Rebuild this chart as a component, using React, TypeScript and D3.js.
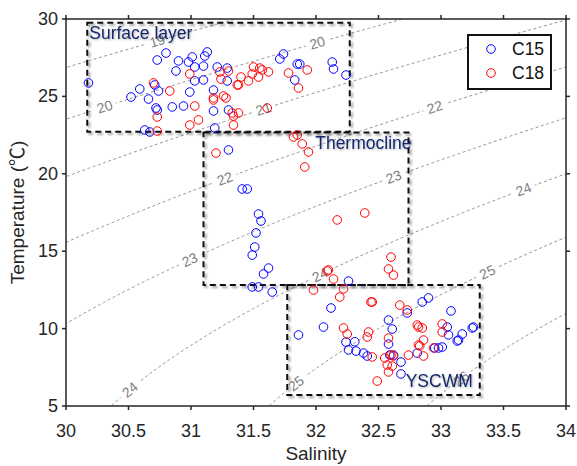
import React from 'react';
import * as d3 from 'd3';

const W = 577;
const H = 466;
const M = { left: 66, right: 11, top: 19, bottom: 60 };

const xTicks = [30, 30.5, 31, 31.5, 32, 32.5, 33, 33.5, 34];
const yTicks = [5, 10, 15, 20, 25, 30];
const seriesNames = ['C15', 'C18'];
const seriesColors = ['#0000ff', '#ff0000'];

const c15Salinity = [
  30.18, 30.52, 30.59, 30.63, 30.67, 30.66, 30.71, 30.72, 30.73, 30.73, 30.74, 30.80, 30.85, 30.88, 30.90, 30.94,
  30.98, 30.99, 31.01, 31.03, 31.03, 31.10, 31.10, 31.11, 31.13, 31.18, 31.18, 31.19, 31.21, 31.29, 31.29, 31.30,
  31.71, 31.74, 31.85, 31.87, 31.83, 32.13, 32.14, 32.24,
  31.30, 31.41, 31.45, 31.54, 31.56, 31.52, 31.51, 31.49, 31.62, 31.58, 31.49, 31.54, 31.65, 32.26,
  31.86, 32.12, 32.06, 32.24, 32.31, 32.26, 32.32, 32.38, 32.41, 32.58, 32.61, 32.58, 32.59, 32.62, 32.68, 32.68,
  32.73, 32.85, 32.90, 33.08, 32.81, 32.95, 32.98, 33.01, 33.05, 33.06, 33.13, 33.14, 33.17, 33.25, 33.26,
];
const c15Temperature = [
  25.87, 24.96, 25.48, 22.83, 22.70, 24.83, 25.74, 24.25, 24.12, 27.35, 25.35, 27.80, 24.32, 26.64, 27.29, 24.38,
  27.22, 25.28, 27.55, 26.90, 26.00, 26.96, 26.06, 27.61, 27.87, 25.41, 24.06, 22.96, 26.90, 26.83, 26.00, 24.12,
  27.42, 27.74, 27.09, 27.09, 26.06, 27.22, 26.77, 26.38,
  21.54, 19.02, 19.02, 17.40, 16.95, 16.18, 15.27, 14.75, 13.91, 13.53, 12.69, 12.69, 12.36, 13.07,
  9.59, 11.33, 10.10, 9.13, 9.15, 8.62, 8.55, 8.42, 8.23, 10.55, 9.97, 9.00, 8.29, 8.29, 7.84, 7.07,
  11.01, 11.72, 11.98, 11.14, 8.42, 8.75, 8.75, 8.81, 10.10, 9.59, 9.20, 9.26, 9.65, 10.04, 10.10,
];

const c18Salinity = [
  30.70, 30.83, 30.99, 31.03, 30.73, 31.06, 30.99, 30.73, 31.18, 31.18, 31.26, 31.28, 31.23, 31.24, 31.30, 31.37,
  31.38, 31.40, 31.46, 31.49, 31.50, 31.55, 31.57, 31.54, 31.62, 31.78, 31.93, 31.86, 31.33, 31.34, 31.38, 31.34,
  31.61,
  31.82, 31.85, 31.89, 31.94, 31.91, 31.20, 32.17, 32.39, 32.60, 32.58, 32.62, 32.09, 32.10, 32.14,
  31.98, 32.22, 32.19, 32.44, 32.45, 32.67, 32.73, 32.22, 32.25, 32.42, 32.41, 32.58, 32.81, 32.82, 32.85, 33.01,
  33.01, 32.86, 32.83, 32.82, 32.94, 32.45, 32.55, 32.60, 32.62, 32.74, 32.86, 32.57, 32.61, 32.58, 32.49,
];
const c18Temperature = [
  25.87, 25.35, 26.45, 24.38, 23.67, 23.48, 23.15, 22.76, 24.90, 24.77, 25.03, 24.90, 26.58, 26.12, 26.64, 25.74,
  25.74, 26.25, 26.00, 26.45, 26.90, 26.83, 26.71, 26.25, 26.58, 26.51, 26.71, 25.54, 23.93, 23.73, 23.93, 23.15,
  24.25,
  22.38, 22.51, 21.93, 21.41, 20.44, 21.34, 17.02, 17.47, 14.62, 13.85, 13.46, 13.72, 13.79, 13.20,
  12.49, 12.56, 12.04, 11.72, 11.72, 11.52, 11.20, 10.04, 9.65, 9.78, 9.46, 9.39, 10.23, 10.10, 10.04, 10.30,
  9.78, 9.26, 8.88, 8.94, 8.75, 8.17, 8.10, 8.29, 8.23, 8.29, 8.23, 7.65, 7.58, 7.20, 6.61,
];

const isopycnalLevels = [19, 20, 21, 22, 23, 24, 25, 26];
const isoLabelLevels = [19, 20, 20, 21, 22, 22, 23, 23, 24, 24, 24, 25, 25, 26];
const isoLabelSalinity = [30.73, 30.31, 32.01, 31.58, 31.27, 32.95, 30.99, 32.62, 32.03, 33.66, 30.51, 33.37, 31.84, 33.16];

const regionNames = ['Surface layer', 'Thermocline', 'YSCWM'];
const regionSalMin = [30.17, 31.1, 31.77];
const regionSalMax = [32.27, 32.74, 33.31];
const regionTempMin = [22.72, 12.82, 5.71];
const regionTempMax = [29.76, 22.66, 12.82];

// UNESCO EOS-80 density anomaly at surface pressure
function sigmaT(S: number, T: number): number {
  const rw = 999.842594 + 6.793952e-2 * T - 9.09529e-3 * T * T + 1.001685e-4 * T ** 3 - 1.120083e-6 * T ** 4 + 6.536332e-9 * T ** 5;
  const A = 0.824493 - 4.0899e-3 * T + 7.6438e-5 * T * T - 8.2467e-7 * T ** 3 + 5.3875e-9 * T ** 4;
  const B = -5.72466e-3 + 1.0227e-4 * T - 1.6546e-6 * T * T;
  const C = 4.8314e-4;
  return rw + A * S + B * Math.pow(S, 1.5) + C * S * S - 1000;
}
function tempAt(S: number, level: number): number | null {
  let lo = 4, hi = 40;
  if (sigmaT(S, lo) < level || sigmaT(S, hi) > level) return null;
  for (let i = 0; i < 60; i++) {
    const mid = (lo + hi) / 2;
    if (sigmaT(S, mid) > level) lo = mid; else hi = mid;
  }
  return (lo + hi) / 2;
}

export default function App() {
  const x = d3.scaleLinear().domain([30, 34]).range([M.left, W - M.right]);
  const y = d3.scaleLinear().domain([5, 30]).range([H - M.bottom, M.top]);
  const x0 = x(30), x1 = x(34), y0 = y(5), y1 = y(30);

  const sGrid = d3.range(29.8, 34.21, 0.02);
  const line = d3.line<[number, number]>().x(d => x(d[0])).y(d => y(d[1]));
  const isoPaths = isopycnalLevels.map(lv => {
    const pts: [number, number][] = [];
    sGrid.forEach(s => { const t = tempAt(s, lv); if (t !== null) pts.push([s, t]); });
    return line(pts) || '';
  });
  const labels = isoLabelLevels.map((lv, i) => {
    const s = isoLabelSalinity[i];
    const t = tempAt(s, lv) ?? 0;
    const t2 = tempAt(s + 0.01, lv) ?? 0;
    const px = x(s), py = y(t);
    const ang = Math.atan2(y(t2) - py, x(s + 0.01) - px) * 180 / Math.PI;
    return { lv, px, py, ang };
  });

  const axisColor = '#262626';
  const font = 'Arial, "Liberation Sans", Helvetica, sans-serif';
  const tl = 4;
  const navy = '#15276b';

  return (
    <svg width={W} height={H} style={{ position: 'absolute', left: 0, top: 0, background: '#fff' }} fontFamily={font}>
      <defs>
        <clipPath id="plotClip"><rect x={x0} y={y1} width={x1 - x0} height={y0 - y1} /></clipPath>
        <mask id="labelGap">
          <rect x={0} y={0} width={W} height={H} fill="#fff" />
          {labels.map((l, i) => (
            <rect key={i} x={-12} y={-7} width={24} height={14} fill="#000"
              transform={`translate(${l.px},${l.py}) rotate(${l.ang})`} />
          ))}
        </mask>
        <filter id="shadow" x="-10%" y="-10%" width="120%" height="120%">
          <feDropShadow dx={2} dy={2} stdDeviation={1.3} floodColor="#000" floodOpacity={0.4} />
        </filter>
        <filter id="tshadow" x="-10%" y="-20%" width="120%" height="140%">
          <feDropShadow dx={1} dy={1} stdDeviation={0.8} floodColor="#000" floodOpacity={0.3} />
        </filter>
      </defs>
      <rect x={0} y={0} width={W} height={H} fill="#fff" />
      <g clipPath="url(#plotClip)">
        <g mask="url(#labelGap)">
          {isoPaths.map((d, i) => (
            <path key={i} d={d} fill="none" stroke="#8c8c8c" strokeWidth={0.9} strokeDasharray="3,2.5" />
          ))}
        </g>
        {labels.map((l, i) => (
          <text key={i} x={0} y={0} fontSize={14} fill="#808080" textAnchor="middle" dominantBaseline="central"
            transform={`translate(${l.px},${l.py}) rotate(${l.ang})`}>{l.lv}</text>
        ))}
      </g>
      {regionNames.map((n, i) => {
        const bx = x(regionSalMin[i]), bx2 = x(regionSalMax[i]);
        const by = y(regionTempMax[i]), by2 = y(regionTempMin[i]);
        return (
          <rect key={n} x={bx} y={by} width={bx2 - bx} height={by2 - by} fill="none" stroke="#111"
            strokeWidth={2} strokeDasharray="6,4" filter="url(#shadow)" />
        );
      })}
      {[0, 1].map(si => {
        const ss = si === 0 ? c15Salinity : c18Salinity;
        const ts = si === 0 ? c15Temperature : c18Temperature;
        return (
          <g key={si}>
            {ss.map((s, j) => (
              <circle key={j} cx={x(s)} cy={y(ts[j])} r={4.3} fill="none" stroke={seriesColors[si]} strokeWidth={1} />
            ))}
          </g>
        );
      })}
      {regionNames.map((n, i) => {
        const bx = x(regionSalMin[i]), bx2 = x(regionSalMax[i]);
        const by = y(regionTempMax[i]), by2 = y(regionTempMin[i]);
        let tx = bx + 2, ty = by + 16, anchor: 'start' | 'end' = 'start';
        if (i === 1) { tx = bx2 + 3; ty = by + 16; anchor = 'end'; }
        if (i === 2) { tx = bx2 - 7; ty = by2 - 8; anchor = 'end'; }
        return (
          <text key={n} x={tx} y={ty} fontSize={17.5} fill={navy} textAnchor={anchor} filter="url(#tshadow)">{n}</text>
        );
      })}
      {/* axes box */}
      <rect x={x0} y={y1} width={x1 - x0} height={y0 - y1} fill="none" stroke={axisColor} strokeWidth={1.5} />
      {xTicks.map(t => (
        <g key={'x' + t}>
          <line x1={x(t)} x2={x(t)} y1={y0} y2={y0 + tl} stroke={axisColor} strokeWidth={1.5} />
          <line x1={x(t)} x2={x(t)} y1={y1} y2={y1 - tl} stroke={axisColor} strokeWidth={1.5} />
          <text x={x(t)} y={y0 + 31} fontSize={18} fill={axisColor} textAnchor="middle">{t}</text>
        </g>
      ))}
      {yTicks.map(t => (
        <g key={'y' + t}>
          <line x1={x0} x2={x0 - tl} y1={y(t)} y2={y(t)} stroke={axisColor} strokeWidth={1.5} />
          <line x1={x1} x2={x1 + tl} y1={y(t)} y2={y(t)} stroke={axisColor} strokeWidth={1.5} />
          <text x={x0 - 8} y={y(t)} fontSize={18} fill={axisColor} textAnchor="end" dominantBaseline="central">{t}</text>
        </g>
      ))}
      <text x={(x0 + x1) / 2} y={H - 6} fontSize={19} fill={axisColor} textAnchor="middle">Salinity</text>
      <text transform={`translate(24,${(y0 + y1) / 2}) rotate(-90)`} fontSize={19} fill={axisColor} textAnchor="middle"
        fontFamily={'Arial, "Liberation Sans", "Noto Sans CJK SC", sans-serif'}>Temperature (℃)</text>
      {/* legend */}
      <rect x={468} y={35} width={83} height={54} fill="#fff" stroke="#111" strokeWidth={2} />
      {seriesNames.map((n, i) => (
        <g key={n}>
          <circle cx={491} cy={49 + i * 24} r={4.3} fill="none" stroke={seriesColors[i]} strokeWidth={1} />
          <text x={512} y={49 + i * 24} fontSize={17.5} fill="#111" dominantBaseline="central">{n}</text>
        </g>
      ))}
    </svg>
  );
}
